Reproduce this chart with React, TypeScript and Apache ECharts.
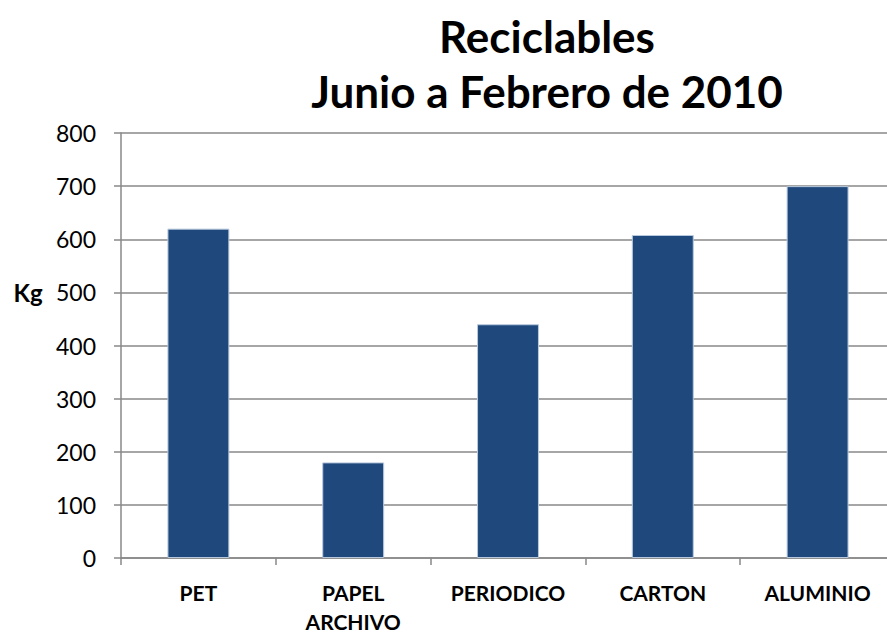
import React, { useEffect, useRef } from "react";
import * as echarts from "echarts";

const categories = ["PET", "PAPEL\nARCHIVO", "PERIODICO", "CARTON", "ALUMINIO"];
const values = [620, 180, 440, 608, 700];
const titleLines = ["Reciclables", "Junio a Febrero de 2010"];
const yAxisName = "Kg";

export default function App() {
  const ref = useRef<HTMLDivElement>(null);
  useEffect(() => {
    document.body.style.margin = "0";
    document.body.style.overflow = "hidden";
    const chart = echarts.init(ref.current!, null, { renderer: "svg" });
    const font = "Lato, 'Open Sans', sans-serif";
    chart.setOption({
      animation: false,
      textStyle: { fontFamily: font },
      title: {
        text: titleLines.join("\n"),
        left: 542,
        top: 3,
        textAlign: "center",
        textStyle: {
          fontFamily: font,
          fontSize: 44,
          fontWeight: "bold",
          color: "#000",
          lineHeight: 55,
        },
      },
      graphic: [
        {
          type: "text",
          x: 28,
          y: 292,
          style: {
            text: yAxisName,
            fontFamily: font,
            fontWeight: "bold",
            fontSize: 24,
            fill: "#000",
            align: "center",
            verticalAlign: "middle",
          },
        },
      ],
      grid: {
        left: 121,
        right: -8,
        top: 133,
        bottom: 76,
        containLabel: false,
        outerBoundsMode: "none",
      },
      xAxis: {
        type: "category",
        data: categories,
        axisLine: { lineStyle: { color: "#888", width: 1.5 } },
        axisTick: { show: true, length: 7, lineStyle: { color: "#888", width: 1.5 } },
        axisLabel: {
          color: "#000",
          fontFamily: font,
          fontWeight: "bold",
          fontSize: 21,
          margin: 20,
          lineHeight: 29,
          interval: 0,
        },
      },
      yAxis: {
        type: "value",
        min: 0,
        max: 800,
        interval: 100,
        axisLine: { show: true, lineStyle: { color: "#888", width: 1.5 } },
        axisTick: { show: true, length: 7, lineStyle: { color: "#888", width: 1.5 } },
        axisLabel: { color: "#000", fontFamily: font, fontSize: 23, margin: 25 },
        splitLine: { lineStyle: { color: "#888", width: 1.5 } },
      },
      series: [
        {
          type: "bar",
          data: values,
          barWidth: "40%",
          itemStyle: { color: "#1F497D", borderColor: "#B9C9DD", borderWidth: 1 },
        },
      ],
    });
    return () => chart.dispose();
  }, []);
  return (
    <div
      ref={ref}
      style={{ position: "absolute", left: 0, top: 0, width: 887, height: 634 }}
    />
  );
}
